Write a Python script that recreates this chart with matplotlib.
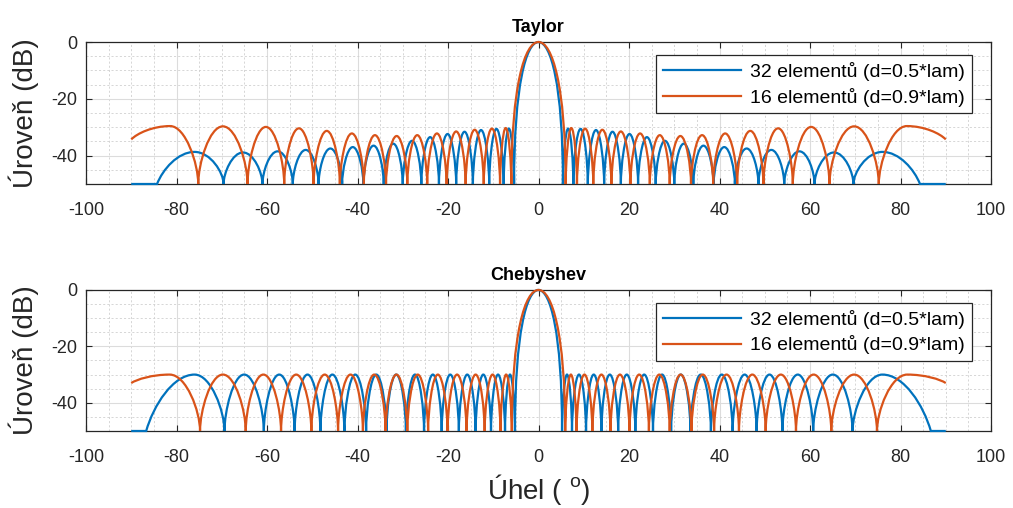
import matplotlib
matplotlib.use("Agg")
import matplotlib.pyplot as plt
from matplotlib.path import Path
from matplotlib.patches import PathPatch
from matplotlib.lines import Line2D

plt.rcParams['font.family'] = ['Liberation Sans', 'DejaVu Sans']
plt.rcParams['mathtext.fontset'] = 'custom'
plt.rcParams['mathtext.rm'] = 'Liberation Sans'
plt.rcParams['axes.unicode_minus'] = False

# Vyzařovací diagramy (kladná polovina, diagram je symetrický)
# nuly [deg], úrovně postranních laloků [dB], okraj: (úhel max., úroveň, koncový úhel, koncová úroveň)
FLOOR = -50.0

tay32_nulls = [5.4, 7.7, 10.9, 14.5, 18.2, 22.0, 25.9, 30.0, 34.2, 38.7, 43.4, 48.6, 54.3, 61.0, 69.6]
tay32_peaks = [-30.5, -30.6, -31.0, -31.6, -32.4, -33.5, -34.8, -35.8, -36.5, -37.0, -37.5, -38.0, -38.5, -38.9]
tay32_edge = (76.0, -38.7, 84.3, -50.0)

tay16_nulls = [6.0, 8.5, 12.1, 16.1, 20.3, 24.6, 29.0, 33.7, 38.6, 43.9, 49.7, 56.2, 64.3, 75.2]
tay16_peaks = [-30.3, -30.5, -30.9, -31.5, -32.2, -32.8, -33.1, -32.8, -32.2, -31.3, -30.4, -29.9, -29.7]
tay16_edge = (81.4, -29.6, 90.0, -34.3)

cheb32_nulls = [5.2, 7.4, 10.5, 13.9, 17.6, 21.4, 25.3, 29.3, 33.6, 38.1, 42.9, 48.2, 53.9, 60.7, 69.4]
cheb32_peaks = [-30.0] * 14
cheb32_edge = (76.0, -30.0, 86.7, -50.0)

cheb16_nulls = [5.9, 8.4, 11.9, 15.9, 20.1, 24.4, 29.0, 33.8, 38.8, 44.3, 50.2, 56.9, 64.7, 74.8]
cheb16_peaks = [-30.0] * 13
cheb16_edge = (81.5, -30.0, 90.0, -33.0)

labels = ['32 elementů (d=0.5*lam)', '16 elementů (d=0.9*lam)']
colors = ['#0072BD', '#D95319']


def rise(x0, xp, yp, c, a):
    # půl laloku od nuly (x0) k maximu (xp, yp) jako kubická Bézierova křivka
    h = yp - FLOOR
    w = xp - x0
    return [(x0, FLOOR), (x0, FLOOR + c * h), (x0 + a * w, yp), (xp, yp)]


def half_segments(nulls, peaks, edge):
    segs = [rise(nulls[0], 0.0, 0.0, 0.7, 0.5)[::-1]]
    for x0, x1, p in zip(nulls[:-1], nulls[1:], peaks):
        xm = 0.5 * (x0 + x1)
        segs.append(rise(x0, xm, p, 0.35, 0.45))
        segs.append(rise(x1, xm, p, 0.35, 0.45)[::-1])
    xp, yp, xe, ye = edge
    segs.append(rise(nulls[-1], xp, yp, 0.35, 0.45))
    w = xe - xp
    segs.append([(xp, yp), (xp + 0.45 * w, yp), (xe - 0.15 * w, ye + 0.45 * (yp - ye)), (xe, ye)])
    if xe < 90:
        segs.append([(xe, ye), (xe, FLOOR), (90.0, FLOOR), (90.0, FLOOR)])
    return segs


def pattern_path(nulls, peaks, edge):
    right = half_segments(nulls, peaks, edge)
    left = [[(-x, y) for x, y in s[::-1]] for s in right[::-1]]
    segs = left + right
    verts = [segs[0][0]]
    codes = [Path.MOVETO]
    for s in segs:
        verts += s[1:]
        codes += [Path.CURVE4] * 3
    return Path(verts, codes)


fig = plt.figure(figsize=(10.13, 5.08), dpi=100)
ax1 = fig.add_axes([0.0849, 0.6378, 0.8934, 0.2795])
ax2 = fig.add_axes([0.0849, 0.1516, 0.8934, 0.2776])

data = [
    (ax1, 'Taylor', [(tay32_nulls, tay32_peaks, tay32_edge), (tay16_nulls, tay16_peaks, tay16_edge)]),
    (ax2, 'Chebyshev', [(cheb32_nulls, cheb32_peaks, cheb32_edge), (cheb16_nulls, cheb16_peaks, cheb16_edge)]),
]

for ax, title, curves in data:
    for (nulls, peaks, edge), col in zip(curves, colors):
        ax.add_patch(PathPatch(pattern_path(nulls, peaks, edge), fill=False,
                               edgecolor=col, lw=1.6, clip_on=False, zorder=3))
    ax.set_xlim(-100, 100)
    ax.set_ylim(-50, 0)
    ax.set_xticks(range(-100, 101, 20))
    ax.set_yticks([-40, -20, 0])
    ax.set_xticks(range(-100, 101, 5), minor=True)
    ax.set_yticks(range(-50, 1, 5), minor=True)
    ax.grid(True, which='major', color='#dcdcdc', lw=0.8)
    ax.grid(True, which='minor', color='#d0d0d0', lw=0.6, linestyle=(0, (2.5, 2.5)))
    ax.set_axisbelow(True)
    ax.tick_params(which='major', direction='in', length=4, width=0.8, top=True, right=True,
                   colors='#262626', labelsize=13, pad=13)
    ax.tick_params(axis='y', which='major', pad=6)
    ax.tick_params(which='minor', length=0)
    for sp in ax.spines.values():
        sp.set_color('#262626')
        sp.set_linewidth(0.9)
    ax.set_title(title, fontsize=13, fontweight='bold', pad=7)
    ax.set_ylabel('Úroveň (dB)', fontsize=20, color='#262626')
    ax.yaxis.set_label_coords(-0.052, 0.5)
    handles = [Line2D([], [], color=c, lw=1.6) for c in colors]
    leg = ax.legend(handles, labels, loc='upper right', bbox_to_anchor=(0.979, 0.9085),
                    borderaxespad=0, fontsize=14, handlelength=4.0, fancybox=False,
                    framealpha=1, edgecolor='#262626', borderpad=0.35, labelspacing=0.35,
                    handletextpad=0.5)
    leg.get_frame().set_linewidth(0.9)
    leg.set_zorder(5)

ax2.set_xlabel('Úhel ( $^{\\mathrm{o}}$)', fontsize=20, color='#262626')
ax2.xaxis.set_label_coords(0.5, -0.29)

fig.savefig('out.png', dpi=100)
